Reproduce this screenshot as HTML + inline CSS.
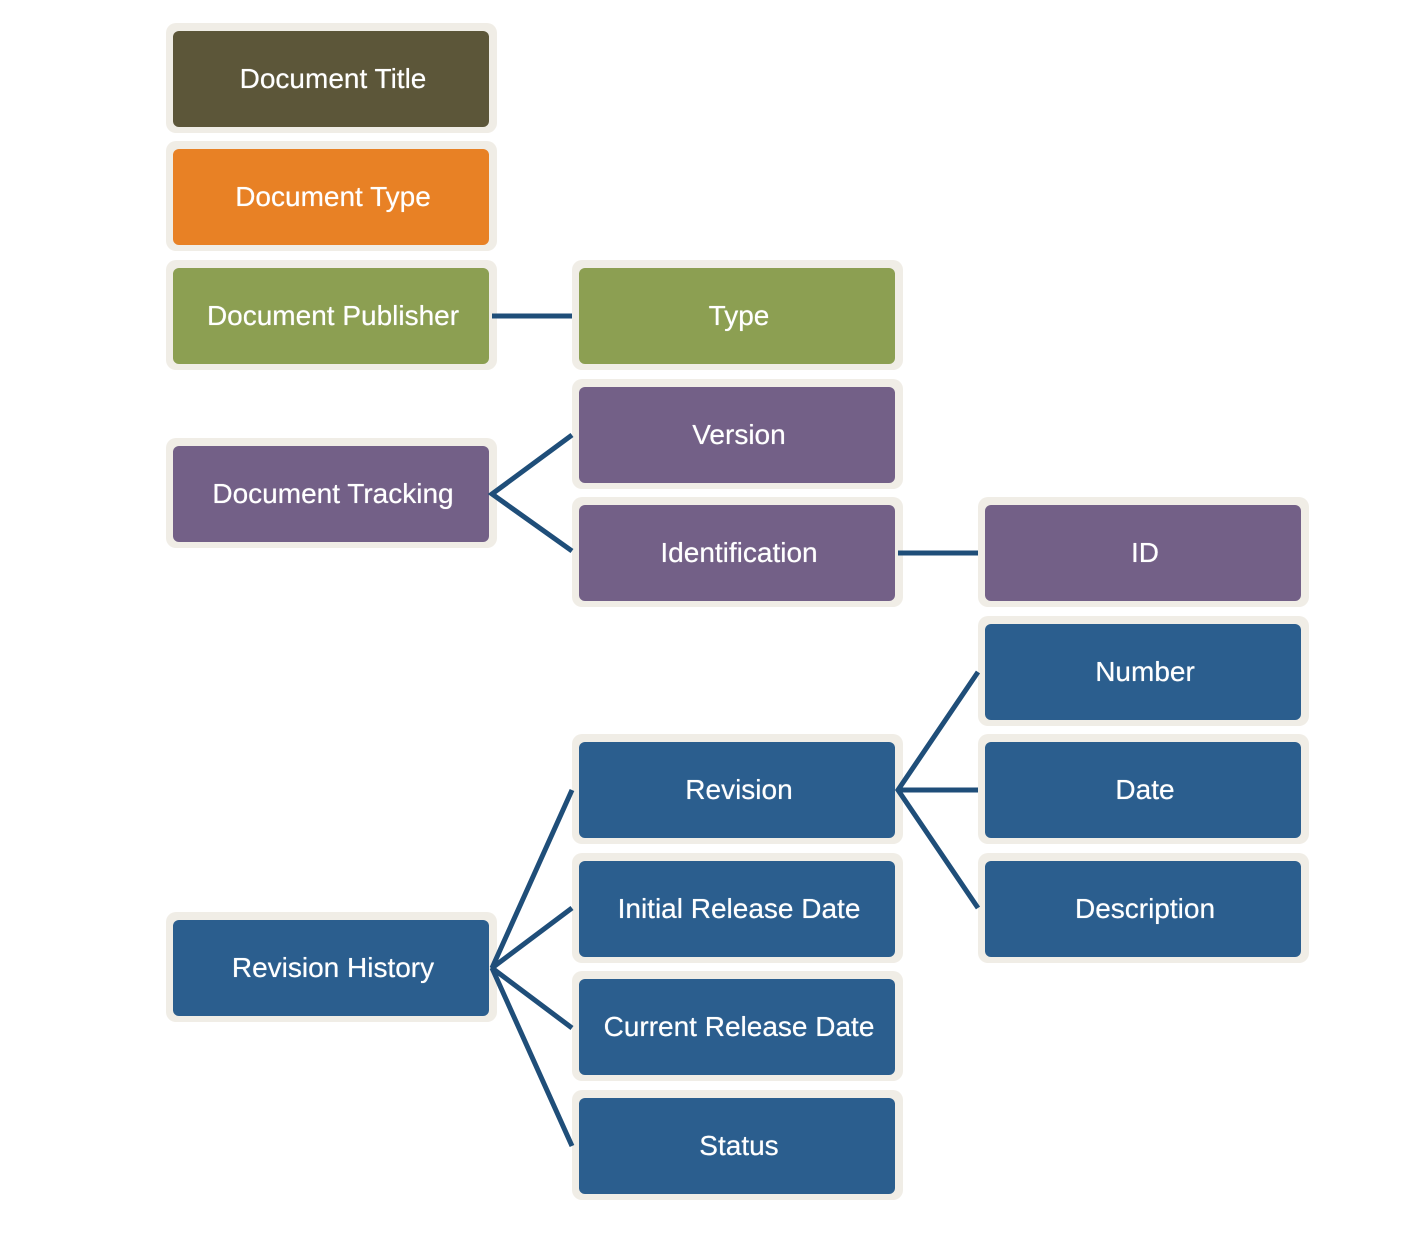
<!DOCTYPE html>
<html><head><meta charset="utf-8"><style>
html,body{margin:0;padding:0;background:#fff;}
body{width:1402px;height:1240px;position:relative;overflow:hidden;font-family:"Liberation Sans",sans-serif;}
.o{position:absolute;width:331px;height:110px;background:#f0ede6;border-radius:10px;}
.i{position:absolute;left:7px;top:8px;width:316px;height:96px;border-radius:6px;color:#fff;font-size:28px;display:flex;align-items:center;justify-content:center;white-space:nowrap;padding-left:4px;box-sizing:border-box;text-shadow:0 0 0.6px #fff;}
svg{position:absolute;left:0;top:0;z-index:2;}
</style></head><body>
<div class="o" style="left:166px;top:23px"><div class="i" style="background:#5c5639">Document Title</div></div>
<div class="o" style="left:166px;top:141px"><div class="i" style="background:#e88125">Document Type</div></div>
<div class="o" style="left:166px;top:260px"><div class="i" style="background:#8c9f52">Document Publisher</div></div>
<div class="o" style="left:572px;top:260px"><div class="i" style="background:#8c9f52">Type</div></div>
<div class="o" style="left:166px;top:438px"><div class="i" style="background:#736087">Document Tracking</div></div>
<div class="o" style="left:572px;top:379px"><div class="i" style="background:#736087">Version</div></div>
<div class="o" style="left:572px;top:497px"><div class="i" style="background:#736087">Identification</div></div>
<div class="o" style="left:978px;top:497px"><div class="i" style="background:#736087">ID</div></div>
<div class="o" style="left:978px;top:616px"><div class="i" style="background:#2b5e8e">Number</div></div>
<div class="o" style="left:572px;top:734px"><div class="i" style="background:#2b5e8e">Revision</div></div>
<div class="o" style="left:978px;top:734px"><div class="i" style="background:#2b5e8e">Date</div></div>
<div class="o" style="left:572px;top:853px"><div class="i" style="background:#2b5e8e">Initial Release Date</div></div>
<div class="o" style="left:978px;top:853px"><div class="i" style="background:#2b5e8e">Description</div></div>
<div class="o" style="left:166px;top:912px"><div class="i" style="background:#2b5e8e">Revision History</div></div>
<div class="o" style="left:572px;top:971px"><div class="i" style="background:#2b5e8e">Current Release Date</div></div>
<div class="o" style="left:572px;top:1090px"><div class="i" style="background:#2b5e8e">Status</div></div>
<svg width="1402" height="1240"><g stroke="#1f4e79" stroke-width="5" fill="none" stroke-linecap="butt" stroke-linejoin="miter">
<line x1="492" y1="316" x2="572" y2="316"/>
<polyline points="572,435 492,494 572,551"/>
<line x1="898" y1="553" x2="978" y2="553"/>
<polyline points="572,790 492,968 572,908"/>
<polyline points="572,1028 492,968 572,1146"/>
<polyline points="978,672 898,790 978,908"/>
<line x1="898" y1="790" x2="978" y2="790"/>
</g></svg>
</body></html>
